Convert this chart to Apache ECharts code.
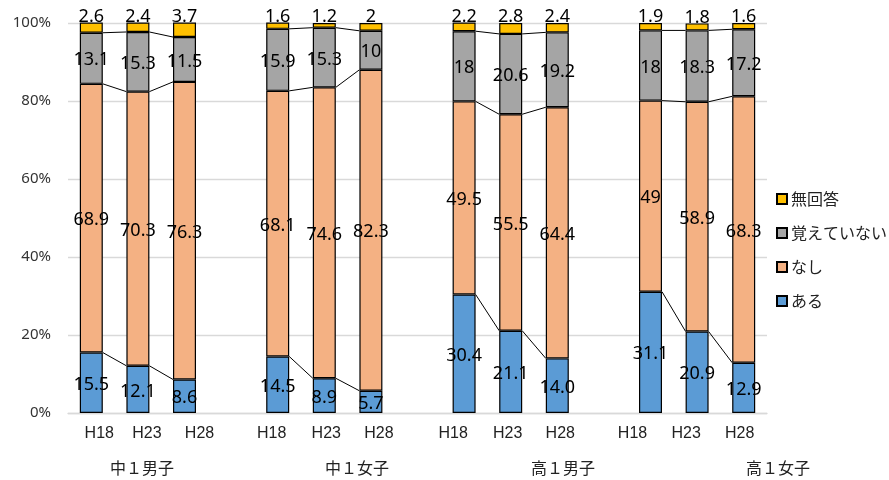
<!DOCTYPE html>
<html>
<head>
<meta charset="utf-8">
<script src="https://cdn.jsdelivr.net/npm/echarts@6/dist/echarts.min.js"></script>
<style>
  html, body { margin: 0; padding: 0; background: #fff; }
  #chart { width: 889px; height: 480px; }
</style>
</head>
<body>
<div id="chart"></div>
<script>
// Survey groups and years
const groups = ['中１男子', '中１女子', '高１男子', '高１女子'];
const years = ['H18', 'H23', 'H28'];
const seriesNames = ['ある', 'なし', '覚えていない', '無回答'];

// Percentages per bar (group-major, year-minor), kept as printed
const aru        = ['15.5', '12.1', '8.6',  '14.5', '8.9',  '5.7',  '30.4', '21.1', '14.0', '31.1', '20.9', '12.9'];
const nashi      = ['68.9', '70.3', '76.3', '68.1', '74.6', '82.3', '49.5', '55.5', '64.4', '49',   '58.9', '68.3'];
const oboeteinai = ['13.1', '15.3', '11.5', '15.9', '15.3', '10',   '18',   '20.6', '19.2', '18',   '18.3', '17.2'];
const mukaitou   = ['2.6',  '2.4',  '3.7',  '1.6',  '1.2',  '2',    '2.2',  '2.8',  '2.4',  '1.9',  '1.8',  '1.6'];

const yTicks = [0, 20, 40, 60, 80, 100];

// ---- layout / styling ----
const BAR_W = 23;
const COLORS = { 'ある': '#5B9BD5', 'なし': '#F4B183', '覚えていない': '#A5A5A5', '無回答': '#FFC000' };
const LATIN = '"Noto Sans", "Noto Sans CJK JP", sans-serif';
const CJK = '"Noto Sans CJK JP", "Noto Sans", sans-serif';
// horizontal nudge (px) of each year label under its bar
const yearLabelShift = [8, 9, 15, -6, 2, 8, -11, -3, 3, -18, -11, -4];
// centre x (px) of each group caption
const groupCaptionX = [142, 357, 563, 778];

// Slots on the category axis: 3 bars per group, one blank slot between groups
const slots = [];
groups.forEach((g, gi) => {
  years.forEach(y => slots.push(y));
  if (gi < groups.length - 1) slots.push('');
});
const barSlot = [];        // bar index -> slot index
slots.forEach((s, i) => { if (s !== '') barSlot.push(i); });
const slotBar = slots.map((s, i) => barSlot.indexOf(i));   // slot index -> bar index (or -1)

const sources = { 'ある': aru, 'なし': nashi, '覚えていない': oboeteinai, '無回答': mukaitou };

function slotData(src) {
  return slots.map((s, i) => {
    const b = slotBar[i];
    return b < 0 ? '-' : Number(src[b]);
  });
}

// Rich styles to nudge each year label
const rich = {};
barSlot.forEach((slot, b) => {
  const d = yearLabelShift[b];
  rich['s' + slot] = {
    fontFamily: 'Liberation Sans, Arial, sans-serif',
    fontSize: 16,
    color: '#222',
    padding: d >= 0 ? [0, 0, 0, 2 * d] : [0, -2 * d, 0, 0]
  };
});

// Connector lines between neighbouring bars of a group, at each segment boundary
const levels = [aru, nashi, oboeteinai];
const cumulative = barSlot.map((_, b) => {
  let acc = 0;
  return levels.map(arr => (acc += Number(arr[b])));
});
const connectors = [];
groups.forEach((g, gi) => {
  for (let k = 0; k < years.length - 1; k++) {
    const b1 = gi * years.length + k, b2 = b1 + 1;
    levels.forEach((_, li) => {
      connectors.push([barSlot[b1], barSlot[b2], cumulative[b1][li], cumulative[b2][li]]);
    });
  }
});

const barSeries = seriesNames.map(name => {
  const src = sources[name];
  const isTop = name === '無回答';
  return {
    name,
    type: 'bar',
    stack: 'total',
    barWidth: BAR_W,
    data: slotData(src),
    itemStyle: { color: COLORS[name], borderColor: '#000', borderWidth: 1.2 },
    label: {
      show: true,
      position: isTop ? 'top' : 'inside',
      distance: isTop ? -3 : 5,
      offset: isTop ? [0, 0] : [0, 2],
      color: '#000',
      fontFamily: LATIN,
      fontSize: 18,
      formatter: p => src[slotBar[p.dataIndex]]
    },
    emphasis: { disabled: true },
    z: 3
  };
});

const chart = echarts.init(document.getElementById('chart'), null, { renderer: 'canvas' });
chart.setOption({
  animation: false,
  backgroundColor: '#fff',
  grid: { left: 68, right: 122, top: 23, bottom: 67, containLabel: false },
  xAxis: {
    type: 'category',
    data: slots,
    axisLine: { show: true, lineStyle: { color: '#D9D9D9', width: 1.3 } },
    axisTick: { show: false },
    axisLabel: {
      interval: 0,
      margin: 13,
      hideOverlap: false,
      formatter: (v, i) => v ? '{s' + i + '|' + v + '}' : '',
      rich
    }
  },
  yAxis: {
    type: 'value',
    min: yTicks[0],
    max: yTicks[yTicks.length - 1],
    interval: yTicks[1] - yTicks[0],
    axisLine: { show: false },
    axisTick: { show: false },
    splitLine: { lineStyle: { color: '#D9D9D9', width: 1.3 } },
    axisLabel: {
      formatter: '{value}%',
      margin: 17,
      color: '#333',
      fontFamily: LATIN,
      fontSize: 15
    }
  },
  legend: {
    orient: 'vertical',
    left: 771,
    top: 186,
    data: ['無回答', '覚えていない', 'なし', 'ある'],
    icon: 'rect',
    itemWidth: 10,
    itemHeight: 10,
    itemGap: 18,
    textStyle: { fontFamily: CJK, fontSize: 16, color: '#222', lineHeight: 16, padding: [0, 0, 0, -1] },
    selectedMode: false
  },
  graphic: groups.map((g, i) => ({
    type: 'text',
    x: groupCaptionX[i],
    y: 468,
    style: {
      text: g,
      fontFamily: CJK,
      fontSize: 16,
      fill: '#222',
      align: 'center',
      verticalAlign: 'middle'
    }
  })),
  series: [
    {
      name: 'connectors',
      type: 'custom',
      data: connectors,
      encode: { x: [0, 1], y: [2, 3] },
      renderItem: (params, api) => {
        const a = api.coord([api.value(0), api.value(2)]);
        const b = api.coord([api.value(1), api.value(3)]);
        const half = BAR_W / 2;
        return {
          type: 'line',
          shape: { x1: a[0] + half, y1: a[1], x2: b[0] - half, y2: b[1] },
          style: { stroke: '#000', lineWidth: 1 }
        };
      },
      silent: true,
      z: 2
    },
    ...barSeries
  ]
});
</script>
</body>
</html>
